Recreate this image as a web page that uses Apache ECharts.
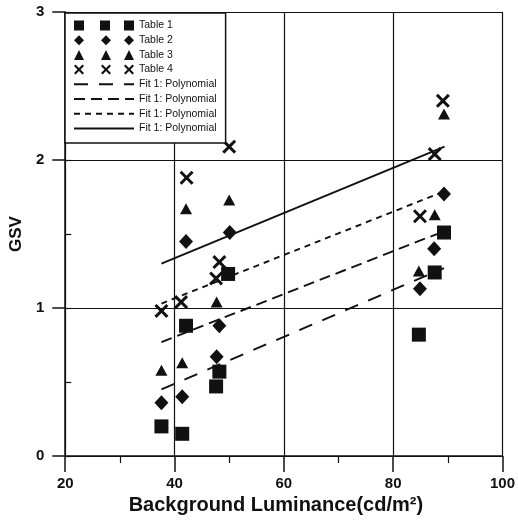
<!DOCTYPE html>
<html>
<head>
<meta charset="utf-8">
<script src="https://cdn.jsdelivr.net/npm/echarts@6/dist/echarts.min.js"></script>
<style>html,body{margin:0;padding:0;background:#fff;}#c{width:518px;height:521px;}</style>
</head>
<body>
<div id="c"></div>
<script>
// ---- data ----
const xTicks = [20, 40, 60, 80, 100];
const yTicks = [0, 1, 2, 3];

const t1X = [37.6, 41.4, 42.1, 47.6, 48.2, 49.8, 84.7, 87.6, 89.3];
const t1Y = [0.20, 0.15, 0.88, 0.47, 0.57, 1.23, 0.82, 1.24, 1.51];

const t2X = [37.6, 41.4, 42.1, 47.7, 48.2, 50.1, 84.9, 87.5, 89.3];
const t2Y = [0.36, 0.40, 1.45, 0.67, 0.88, 1.51, 1.13, 1.40, 1.77];

const t3X = [37.6, 41.4, 42.1, 47.7, 50.0, 84.7, 87.6, 89.3];
const t3Y = [0.58, 0.63, 1.67, 1.04, 1.73, 1.25, 1.63, 2.31];

const t4X = [37.6, 41.2, 42.2, 47.6, 48.2, 50.0, 84.9, 87.6, 89.1];
const t4Y = [0.98, 1.04, 1.88, 1.20, 1.31, 2.09, 1.62, 2.04, 2.40];

const fit1X = [37.6, 89.3]; const fit1Y = [0.45, 1.27];
const fit2X = [37.6, 88.7]; const fit2Y = [0.77, 1.51];
const fit3X = [37.6, 88.8]; const fit3Y = [1.03, 1.78];
const fit4X = [37.6, 89.4]; const fit4Y = [1.30, 2.09];

const names = ['Table 1', 'Table 2', 'Table 3', 'Table 4',
  'Fit 1: Polynomial', 'Fit 1: Polynomial ', 'Fit 1: Polynomial  ', 'Fit 1: Polynomial   '];

// ---- build ----
const pairs = (xs, ys) => xs.map((x, i) => [x, ys[i]]);
const INK = '#111';
const FONT = '"Liberation Sans", Arial, sans-serif';
const xMark = 'path://M0,1.5L1.5,0L5,3.5L8.5,0L10,1.5L6.5,5L10,8.5L8.5,10L5,6.5L1.5,10L0,8.5L3.5,5Z';

const legSquare = 'path://M0,0h10v10h-10z M26,0h10v10h-10z M50,0h10v10h-10z';
const legDiamond = 'path://M0,5L5,0L10,5L5,10Z M27,5L32,0L37,5L32,10Z M50,5L55,0L60,5L55,10Z';
const legTri = 'path://M0,10L5,0L10,10Z M27,10L32,0L37,10Z M50,10L55,0L60,10Z';
const xs = (o) => `M${o},1.5L${o+1.5},0L${o+5},3.5L${o+8.5},0L${o+10},1.5L${o+6.5},5L${o+10},8.5L${o+8.5},10L${o+5},6.5L${o+1.5},10L${o},8.5L${o+3.5},5Z`;
const legX = 'path://' + xs(0) + ' ' + xs(27) + ' ' + xs(50);

function scatter(name, data, symbol, size) {
  return { name, type: 'scatter', data, symbol, symbolSize: size,
    itemStyle: { color: INK, opacity: 1 }, z: 3 };
}
function fit(name, data, dash) {
  return { name, type: 'line', data, symbol: 'none', silent: true,
    itemStyle: { color: INK },
    lineStyle: { color: INK, width: 1.9, type: dash }, z: 2 };
}

const chart = echarts.init(document.getElementById('c'), null, { renderer: 'canvas' });
chart.setOption({
  backgroundColor: '#fff',
  animation: false,
  color: [INK],
  grid: { left: 65, right: 13, top: 12, bottom: 65 },
  xAxis: {
    type: 'value', min: xTicks[0], max: xTicks[xTicks.length - 1], interval: 20,
    name: 'Background Luminance(cd/m²)', nameLocation: 'middle', nameGap: 31,
    nameTextStyle: { fontFamily: FONT, fontWeight: 'bold', fontSize: 20, color: INK, padding: [0, 16, 0, 0] },
    axisLine: { show: true, lineStyle: { color: INK, width: 1.5 } },
    axisTick: { show: true, length: 16, lineStyle: { color: INK, width: 1.5 } },
    minorTick: { show: true, splitNumber: 2, length: 7, lineStyle: { color: INK, width: 1.2 } },
    splitLine: { show: true, lineStyle: { color: INK, width: 1.2 } },
    axisLabel: { fontFamily: FONT, fontWeight: 'bold', fontSize: 15, color: INK, margin: 20 }
  },
  yAxis: [{
    type: 'value', min: yTicks[0], max: yTicks[yTicks.length - 1], interval: 1,
    name: 'GSV', nameLocation: 'middle', nameGap: 34,
    nameTextStyle: { fontFamily: FONT, fontWeight: 'bold', fontSize: 17, color: INK },
    axisLine: { show: true, lineStyle: { color: INK, width: 1.5 } },
    axisTick: { show: true, length: 13, lineStyle: { color: INK, width: 1.5 } },
    splitLine: { show: true, lineStyle: { color: INK, width: 1.2 } },
    axisLabel: { fontFamily: FONT, fontWeight: 'bold', fontSize: 15, color: INK, margin: 21 }
  }, {
    type: 'value', position: 'left', min: 0, max: 3, interval: 0.5,
    axisLine: { show: false },
    axisTick: { show: true, inside: true, length: 6, lineStyle: { color: INK, width: 1.2 } },
    axisLabel: { show: false }, splitLine: { show: false }
  }],
  legend: {
    orient: 'vertical', left: 65, top: 13,
    padding: [7, 9, 9, 8], itemGap: 3.7, itemWidth: 60, itemHeight: 10,
    borderColor: INK, borderWidth: 1.5, backgroundColor: '#fff',
    textStyle: { fontFamily: FONT, fontSize: 10.5, color: INK },
    formatter: (n) => n.trim(),
    selectedMode: false,
    data: [
      { name: names[0], icon: legSquare },
      { name: names[1], icon: legDiamond },
      { name: names[2], icon: legTri },
      { name: names[3], icon: legX },
      { name: names[4], itemStyle: { opacity: 0 } },
      { name: names[5], itemStyle: { opacity: 0 } },
      { name: names[6], itemStyle: { opacity: 0 } },
      { name: names[7], itemStyle: { opacity: 0 } }
    ]
  },
  series: [
    scatter(names[0], pairs(t1X, t1Y), 'rect', 14),
    scatter(names[1], pairs(t2X, t2Y), 'diamond', [14, 15]),
    scatter(names[2], pairs(t3X, t3Y), 'triangle', [12, 11]),
    scatter(names[3], pairs(t4X, t4Y), xMark, 14),
    fit(names[4], pairs(fit1X, fit1Y), [14, 11]),
    fit(names[5], pairs(fit2X, fit2Y), [11, 6]),
    fit(names[6], pairs(fit3X, fit3Y), [6, 5]),
    fit(names[7], pairs(fit4X, fit4Y), 'solid')
  ]
});
</script>
</body>
</html>
